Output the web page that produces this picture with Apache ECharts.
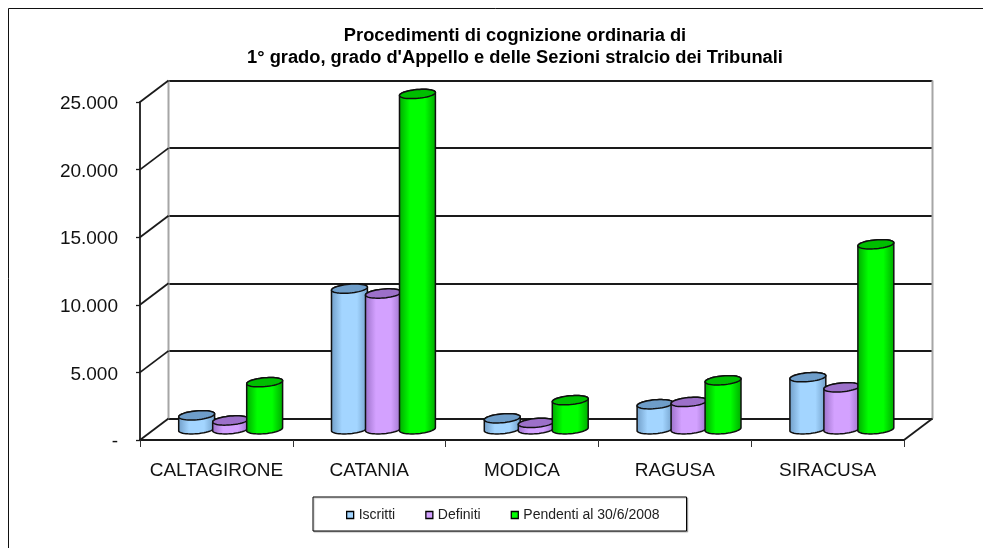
<!DOCTYPE html>
<html>
<head>
<meta charset="utf-8">
<style>html,body{margin:0;padding:0;background:#fff}#c{width:983px;height:548px}</style>
<script src="https://cdn.jsdelivr.net/npm/echarts@6/dist/echarts.min.js"></script>
</head>
<body>
<div id="c"></div>
<script>
const categories = ['CALTAGIRONE', 'CATANIA', 'MODICA', 'RAGUSA', 'SIRACUSA'];
const iscritti = [1030, 10400, 810, 1850, 3850];
const definiti = [650, 10040, 470, 2020, 3100];
const pendenti = [3480, 24800, 2150, 3620, 13680];
const valueTicks = [0, 5000, 10000, 15000, 20000, 25000];
const tickLabels = ['-', '5.000', '10.000', '15.000', '20.000', '25.000'];
const seriesNames = ['Iscritti', 'Definiti', 'Pendenti al 30/6/2008'];

const FONT = '"Liberation Sans", Arial, sans-serif';
const DX = 28.5, DY = -21.5;
const palette = [
  { mid: '#A3D5FF', edge: '#6F9CC6', top: '#6E9DC9' },
  { mid: '#D3A1FF', edge: '#9A70C8', top: '#9C70C9' },
  { mid: '#00FF00', edge: '#00A800', top: '#00BE00' }
];

function ellipsePts(cx, cy, rx, ry, tilt, from, to, n) {
  const pts = [], c = Math.cos(tilt), s = Math.sin(tilt);
  for (let i = 0; i <= n; i++) {
    const t = from + (to - from) * i / n;
    const x = rx * Math.cos(t), y = ry * Math.sin(t);
    pts.push([cx + x * c - y * s, cy + x * s + y * c]);
  }
  return pts;
}

function cylinder(idx) {
  const p = palette[idx];
  return function (params, api) {
    const cat = api.value(0), val = api.value(1);
    const band = api.size([1, 0])[0];
    const pitch = band * 0.2225, rx = band * 0.118, ry = 4.4, tilt = -0.09;
    const base = api.coord([cat, 0]), top = api.coord([cat, val]);
    const cx = base[0] + (idx - 1) * pitch;
    const body = ellipsePts(cx, base[1], rx, ry, tilt, Math.PI, 0, 24)
      .concat(ellipsePts(cx, top[1], rx, ry, tilt, 0, -Math.PI, 24));
    const grad = new echarts.graphic.LinearGradient(0, 0, 1, 0, [
      { offset: 0, color: p.edge }, { offset: 0.3, color: p.mid },
      { offset: 0.7, color: p.mid }, { offset: 1, color: p.edge }
    ]);
    const line = { stroke: '#101010', lineWidth: 1.5, lineJoin: 'round' };
    return {
      type: 'group',
      children: [
        { type: 'polygon', shape: { points: body }, style: Object.assign({ fill: grad }, line) },
        { type: 'polygon', shape: { points: ellipsePts(cx, top[1], rx, ry, tilt, 0, 2 * Math.PI, 48) },
          style: Object.assign({ fill: p.top }, line) }
      ]
    };
  };
}

const lineStyleDark = { stroke: '#1a1a1a', lineWidth: 1.8 };

const option = {
  animation: false,
  backgroundColor: '#fff',
  title: {
    text: "Procedimenti di cognizione ordinaria di\n1° grado, grado d'Appello e delle Sezioni stralcio dei Tribunali",
    left: 510, top: 20, textAlign: 'center',
    textStyle: { fontFamily: FONT, fontWeight: 'bold', fontSize: 18.3, lineHeight: 22, color: '#000' }
  },
  legend: {
    left: 313, top: 497,
    orient: 'horizontal',
    padding: [11, 27, 9, 33],
    itemGap: 30, itemWidth: 7, itemHeight: 7,
    borderColor: '#000', borderWidth: 1, backgroundColor: '#fff',
    shadowColor: 'rgba(0,0,0,0.25)', shadowBlur: 1, shadowOffsetX: 1, shadowOffsetY: 1,
    selectedMode: false,
    data: seriesNames.map((n, i) => ({
      name: n, icon: 'rect',
      itemStyle: { color: palette[i].mid, borderColor: '#000', borderWidth: 1.3 }
    })),
    textStyle: { fontFamily: FONT, fontSize: 14, color: '#222' }
  },
  graphic: [
    { type: 'polyline', silent: true, shape: { points: [[8.5, 548], [8.5, 8.5], [983, 8.5]] },
      style: { fill: null, stroke: '#111', lineWidth: 1 } }
  ],
  grid: [
    { left: 140, right: 79, top: 102, bottom: 108 },              // front plane
    { left: 168.5, right: 50.5, top: 80.5, bottom: 129.5 },       // back wall
    { left: 154.25, right: 64.75, top: 91.25, bottom: 118.75 }    // plane of the cylinders
  ],
  xAxis: [
    { gridIndex: 0, type: 'category', data: categories,
      axisLine: { lineStyle: { color: '#1a1a1a', width: 1.8 } },
      axisTick: { show: true, alignWithLabel: false, length: 7, lineStyle: { color: '#333', width: 1 } },
      axisLabel: { margin: 21, fontFamily: FONT, fontSize: 19, color: '#111', interval: 0 } },
    { gridIndex: 1, type: 'category', data: categories, show: false },
    { gridIndex: 2, type: 'category', data: categories, show: false }
  ],
  yAxis: [
    { gridIndex: 0, type: 'value', min: 0, max: 25000, interval: 5000,
      axisLine: { show: true, lineStyle: { color: '#1a1a1a', width: 1.8 } },
      axisTick: { show: true, length: 4, lineStyle: { color: '#1a1a1a', width: 1.3 } },
      splitLine: { show: false },
      axisLabel: { margin: 22, verticalAlign: 'top', lineHeight: 4, fontFamily: FONT, fontSize: 19, color: '#111',
        formatter: v => tickLabels[valueTicks.indexOf(v)] } },
    { gridIndex: 1, type: 'value', min: 0, max: 25000, interval: 5000,
      axisLine: { show: false }, axisTick: { show: false }, axisLabel: { show: false },
      splitLine: { show: true, lineStyle: { color: '#1a1a1a', width: 1.8 } } },
    { gridIndex: 2, type: 'value', min: 0, max: 25000, interval: 5000, show: false, splitLine: { show: false } }
  ],
  series: [
    { type: 'custom', name: 'walls', xAxisIndex: 1, yAxisIndex: 1, silent: true, z: 1,
      data: [[0, 0], [categories.length - 1, 0]],
      encode: { x: 0, y: 1 },
      renderItem: function (params, api) {
        const band = api.size([1, 0])[0];
        const i = api.value(0);
        const side = i === 0 ? -0.5 : 0.5;
        const a = api.coord([i, 0]), b = api.coord([i, 25000]);
        return { type: 'line', shape: { x1: a[0] + side * band, y1: a[1], x2: b[0] + side * band, y2: b[1] },
          style: { stroke: '#A6A6A6', lineWidth: 2 } };
      } },
    { type: 'custom', name: 'depth', xAxisIndex: 0, yAxisIndex: 0, silent: true, z: 2,
      data: valueTicks.map(v => [0, v]),
      encode: { x: 0, y: 1 },
      renderItem: function (params, api) {
        const a = api.coord([0, api.value(1)]);
        const x = a[0] - api.size([1, 0])[0] / 2;
        return { type: 'line', shape: { x1: x, y1: a[1], x2: x + DX, y2: a[1] + DY }, style: lineStyleDark };
      } },
    { type: 'custom', name: 'floorEdge', xAxisIndex: 0, yAxisIndex: 0, silent: true, z: 2,
      data: [[categories.length - 1, 0]],
      encode: { x: 0, y: 1 },
      renderItem: function (params, api) {
        const a = api.coord([api.value(0), 0]);
        const x = a[0] + api.size([1, 0])[0] / 2;
        return { type: 'line', shape: { x1: x, y1: a[1], x2: x + DX, y2: a[1] + DY }, style: lineStyleDark };
      } }
  ].concat([iscritti, definiti, pendenti].map((vals, i) => ({
    type: 'custom', name: seriesNames[i], xAxisIndex: 2, yAxisIndex: 2, z: 5 + i,
    itemStyle: { color: palette[i].mid },
    renderItem: cylinder(i),
    encode: { x: 0, y: 1 },
    data: vals.map((v, c) => [c, v])
  })))
};

const chart = echarts.init(document.getElementById('c'), null, { renderer: 'canvas' });
chart.setOption(option);
</script>
</body>
</html>
